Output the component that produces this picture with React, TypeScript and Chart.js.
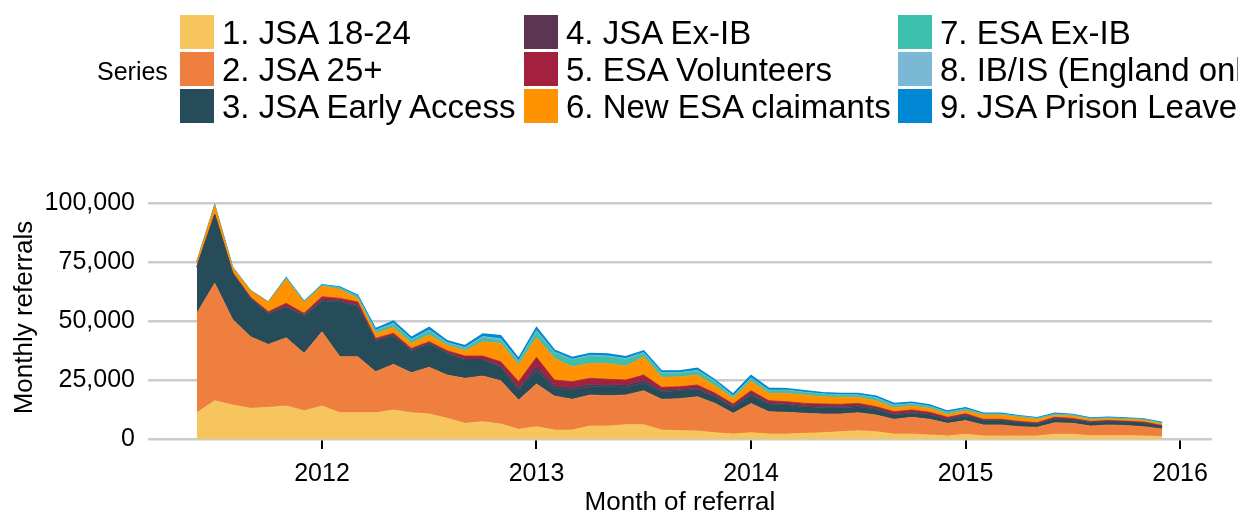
import React, { useEffect, useRef } from "react";
import { Chart, registerables } from "chart.js";

Chart.register(...registerables);

const months = [
  "2011-06", "2011-07", "2011-08", "2011-09", "2011-10", "2011-11", "2011-12",
  "2012-01", "2012-02", "2012-03", "2012-04", "2012-05", "2012-06", "2012-07", "2012-08", "2012-09", "2012-10", "2012-11", "2012-12",
  "2013-01", "2013-02", "2013-03", "2013-04", "2013-05", "2013-06", "2013-07", "2013-08", "2013-09", "2013-10", "2013-11", "2013-12",
  "2014-01", "2014-02", "2014-03", "2014-04", "2014-05", "2014-06", "2014-07", "2014-08", "2014-09", "2014-10", "2014-11", "2014-12",
  "2015-01", "2015-02", "2015-03", "2015-04", "2015-05", "2015-06", "2015-07", "2015-08", "2015-09", "2015-10", "2015-11", "2015-12",
];

const seriesNames = [
  "1. JSA 18-24",
  "2. JSA 25+",
  "3. JSA Early Access",
  "4. JSA Ex-IB",
  "5. ESA Volunteers",
  "6. New ESA claimants",
  "7. ESA Ex-IB",
  "8. IB/IS (England only)",
  "9. JSA Prison Leavers",
];

const seriesColors = [
  "#F6C55D", "#EE7F3F", "#264B59", "#5B3552", "#A3213E",
  "#FF9200", "#3DBFAD", "#7AB8D5", "#0088D5",
];

const jsa1824 = [11100, 16200, 14400, 13000, 13400, 14000, 12000, 14000, 11150, 11150, 11150, 12300, 11150, 10600, 8750, 6650, 7350, 6350, 4100, 5200, 3800, 3800, 5500, 5500, 6050, 6050, 3800, 3500, 3400, 2650, 2100, 2650, 2100, 2100, 2400, 2650, 3100, 3500, 3100, 2100, 2100, 1700, 1300, 2000, 1300, 1300, 1300, 1300, 2000, 2000, 1400, 1400, 1400, 1300, 1000];
const jsa25 = [42200, 49800, 36300, 30350, 26700, 28900, 24300, 31450, 23750, 23750, 17350, 19350, 16950, 19800, 18350, 19050, 19350, 18350, 12400, 18100, 14400, 13000, 13150, 12850, 12600, 14400, 13000, 13600, 14500, 12450, 8800, 12350, 9450, 9200, 8500, 7950, 7500, 7650, 7050, 6250, 7100, 6650, 5350, 5800, 4650, 4650, 3900, 3650, 4900, 4650, 4100, 4550, 4300, 3900, 3250];
const jsaEarly = [19450, 28900, 19500, 16250, 12900, 12900, 15800, 13050, 23300, 21150, 13150, 12000, 9300, 9850, 9200, 7750, 6750, 5700, 4250, 5950, 3300, 3950, 3500, 3800, 3250, 3400, 3250, 3350, 3150, 2800, 2500, 3650, 3300, 3100, 2800, 2800, 2650, 2550, 2450, 1800, 1700, 1800, 1400, 2000, 1800, 1800, 1700, 1400, 1450, 1400, 1400, 1400, 1350, 1450, 950];
const jsaExIB = [100, 100, 100, 150, 300, 500, 350, 550, 400, 600, 300, 350, 300, 300, 350, 500, 500, 700, 1050, 1600, 1050, 1050, 1050, 950, 950, 1000, 550, 500, 550, 450, 450, 550, 400, 400, 400, 450, 450, 400, 350, 400, 400, 350, 350, 250, 200, 200, 150, 150, 250, 200, 150, 150, 150, 150, 150];
const esaVol = [250, 300, 300, 350, 650, 1200, 800, 1250, 1000, 1400, 700, 800, 700, 700, 750, 1200, 1200, 1650, 2500, 3750, 2450, 2500, 2500, 2200, 2150, 2250, 1300, 1200, 1300, 1000, 1000, 1250, 950, 1000, 1000, 1000, 1000, 1000, 750, 1000, 1000, 800, 800, 650, 400, 400, 400, 400, 600, 450, 400, 350, 350, 350, 350];
const newEsa = [1900, 3700, 2100, 2700, 4000, 10300, 4600, 4500, 3800, 1550, 2150, 2500, 2150, 2800, 2400, 2250, 6100, 7800, 7050, 8500, 9200, 6350, 6350, 6750, 5950, 7750, 4250, 4250, 4200, 3100, 2400, 4050, 3150, 3550, 3550, 3050, 2950, 2550, 2500, 1700, 1700, 1700, 1250, 1300, 1800, 1800, 1750, 1450, 900, 1050, 900, 750, 800, 900, 650];
const esaExIB = [0, 0, 50, 100, 100, 550, 450, 400, 700, 700, 950, 1400, 1400, 1700, 750, 1000, 1650, 1400, 1400, 2350, 2350, 2800, 3100, 2800, 2800, 1450, 1700, 1450, 1700, 1850, 650, 1000, 1000, 1200, 950, 1050, 850, 850, 1050, 850, 850, 700, 700, 600, 350, 350, 350, 350, 400, 350, 300, 300, 300, 250, 350];
const ibis = [0, 0, 0, 0, 0, 0, 0, 50, 100, 200, 300, 400, 350, 450, 350, 350, 500, 550, 450, 550, 350, 350, 350, 350, 350, 350, 300, 300, 350, 200, 350, 400, 350, 250, 250, 200, 250, 250, 300, 300, 200, 200, 200, 200, 100, 100, 100, 100, 100, 100, 50, 100, 50, 50, 100];
const prison = [0, 0, 0, 0, 0, 0, 0, 100, 300, 400, 700, 900, 800, 1100, 750, 800, 1100, 1250, 1000, 1300, 800, 800, 800, 800, 750, 750, 650, 650, 800, 500, 800, 1000, 800, 550, 600, 450, 600, 600, 650, 700, 500, 500, 500, 500, 300, 300, 250, 250, 300, 250, 200, 200, 200, 150, 250];

const seriesValues = [jsa1824, jsa25, jsaEarly, jsaExIB, esaVol, newEsa, esaExIB, ibis, prison];

const xTickValues = [2012, 2013, 2014, 2015, 2016];
const yTickValues = [0, 25000, 50000, 75000, 100000];

const FONT = "'Liberation Sans', Arial, sans-serif";

function monthToX(m: string): number {
  const [y, mo] = m.split("-").map(Number);
  return y + (mo - 1) / 12;
}

const legendCols = [180, 524, 898];
const legendRows = [15, 52, 89];

export default function App() {
  const ref = useRef<HTMLCanvasElement | null>(null);

  useEffect(() => {
    document.body.style.margin = "0";
    const datasets = seriesValues.map((vals, i) => ({
      label: seriesNames[i],
      data: vals.map((v, j) => ({ x: monthToX(months[j]), y: v })),
      backgroundColor: seriesColors[i],
      borderColor: seriesColors[i],
      borderWidth: i === 8 ? 1.4 : 0.8,
      pointRadius: 0,
      pointHoverRadius: 0,
      fill: i === 0 ? "origin" : "-1",
      tension: 0,
    }));

    const chart = new Chart(ref.current as HTMLCanvasElement, {
      type: "line",
      data: { datasets } as any,
      options: {
        animation: false,
        responsive: false,
        maintainAspectRatio: false,
        layout: { padding: { top: 196, left: 0, right: 26, bottom: 0 } },
        plugins: { legend: { display: false }, tooltip: { enabled: false } },
        scales: {
          x: {
            type: "linear",
            min: 2011.1888,
            max: 2016.149,
            afterBuildTicks: (scale: any) => {
              scale.ticks = xTickValues.map((v) => ({ value: v }));
            },
            grid: {
              display: true,
              drawOnChartArea: false,
              drawTicks: true,
              tickLength: 10,
              color: "#000000",
              lineWidth: 2,
            },
            border: { display: false },
            ticks: {
              padding: 10,
              color: "#000000",
              font: { family: FONT, size: 25 },
              maxRotation: 0,
              autoSkip: false,
              callback: (v: any) => String(v),
            },
            title: {
              display: true,
              text: "Month of referral",
              color: "#000000",
              font: { family: FONT, size: 26, lineHeight: 0.3 },
              padding: { top: 0.1, bottom: 9.1 },
            },
          },
          y: {
            stacked: true,
            min: 0,
            max: 103000,
            afterBuildTicks: (scale: any) => {
              scale.ticks = yTickValues.map((v) => ({ value: v }));
            },
            grid: {
              display: true,
              drawTicks: false,
              color: "#CCCCCC",
              lineWidth: 2.5,
            },
            border: { display: false },
            ticks: {
              padding: 13,
              color: "#000000",
              font: { family: FONT, size: 25 },
              callback: (v: any) => Number(v).toLocaleString("en-US"),
            },
            title: {
              display: true,
              text: "Monthly referrals",
              color: "#000000",
              font: { family: FONT, size: 26, lineHeight: 10 / 26 },
              padding: { top: 20, bottom: 1.6 },
            },
          },
        },
      } as any,
    });
    return () => chart.destroy();
  }, []);

  return (
    <div
      style={{
        position: "fixed",
        left: 0,
        top: 0,
        width: 1238,
        height: 516,
        overflow: "hidden",
        background: "#ffffff",
        fontFamily: FONT,
      }}
    >
      <canvas
        ref={ref}
        width={1238}
        height={516}
        style={{ position: "absolute", left: 0, top: 0, width: 1238, height: 516, display: "block" }}
      />
      <div
        style={{
          position: "absolute",
          left: 97,
          top: 56,
          fontSize: 25,
          lineHeight: "30px",
          color: "#000",
          whiteSpace: "nowrap",
        }}
      >
        Series
      </div>
      {seriesNames.map((name, i) => {
        const col = Math.floor(i / 3);
        const row = i % 3;
        const left = legendCols[col];
        const top = legendRows[row];
        return (
          <React.Fragment key={name}>
            <div
              style={{
                position: "absolute",
                left,
                top,
                width: 34,
                height: 34,
                background: seriesColors[i],
              }}
            />
            <div
              style={{
                position: "absolute",
                left: left + 42,
                top: top + 1,
                fontSize: 33,
                lineHeight: "34px",
                color: "#000",
                whiteSpace: "nowrap",
              }}
            >
              {name}
            </div>
          </React.Fragment>
        );
      })}
    </div>
  );
}
